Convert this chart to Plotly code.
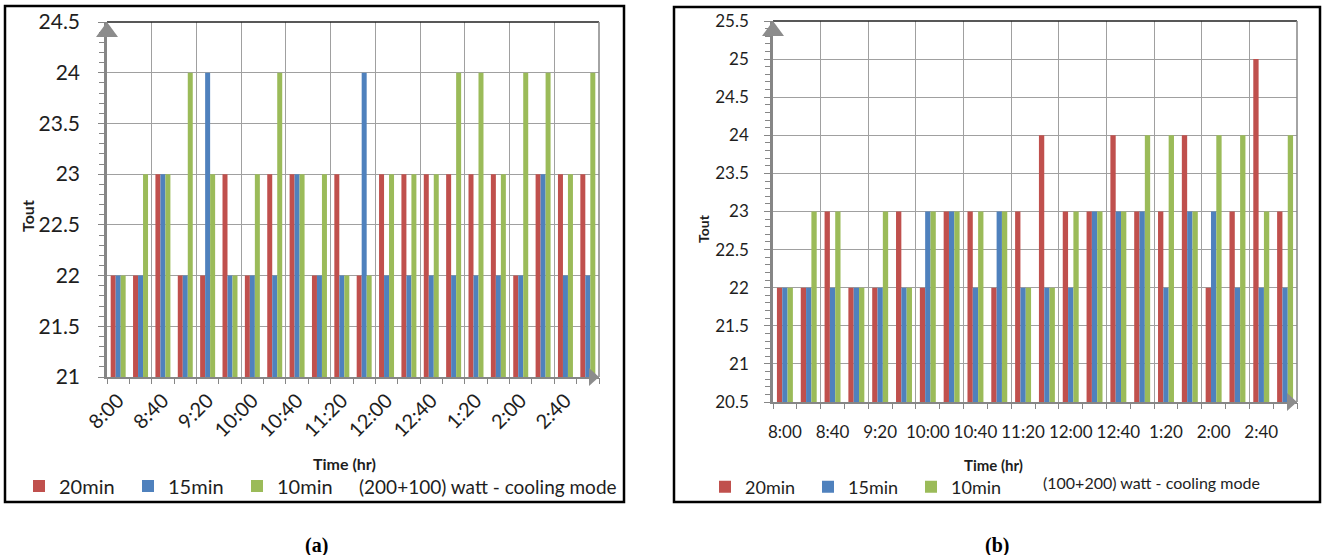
import plotly.graph_objects as go

# ---------------- data ----------------
categories = ["8:00", "8:20", "8:40", "9:00", "9:20", "9:40", "10:00", "10:20",
              "10:40", "11:00", "11:20", "11:40", "12:00", "12:20", "12:40",
              "1:00", "1:20", "1:40", "2:00", "2:20", "2:40", "3:00"]
tick_labels = ["8:00", "8:40", "9:20", "10:00", "10:40", "11:20", "12:00",
               "12:40", "1:20", "2:00", "2:40"]
series_names = ["20min", "15min", "10min"]

# panel (a): (200+100) watt - cooling mode
a_20min = [22, 22, 23, 22, 22, 23, 22, 23, 23, 22, 23, 22, 23, 23, 23, 23, 23, 23, 22, 23, 23, 23]
a_15min = [22, 22, 23, 22, 24, 22, 22, 22, 23, 22, 22, 24, 22, 22, 22, 22, 22, 22, 22, 23, 22, 22]
a_10min = [22, 23, 23, 24, 23, 22, 23, 24, 23, 23, 22, 22, 23, 23, 23, 24, 24, 23, 24, 24, 23, 24]

# panel (b): (100+200) watt - cooling mode
b_20min = [22, 22, 23, 22, 22, 23, 22, 23, 23, 22, 23, 24, 23, 23, 24, 23, 23, 24, 22, 23, 25, 23]
b_15min = [22, 22, 22, 22, 22, 22, 23, 23, 22, 23, 22, 22, 22, 23, 23, 23, 22, 23, 23, 22, 22, 22]
b_10min = [22, 23, 23, 22, 23, 22, 23, 23, 23, 23, 22, 22, 23, 23, 23, 24, 24, 23, 24, 24, 23, 24]

colors = ["#C0504D", "#4F81BD", "#9BBB59"]

W, H = 1325, 555
FONT = "Lato"
AXC = "#868686"
GRID = "#a0a0a0"
TXT = "#1e1e1e"


def px(x):
    return x / W


def py(y):
    return 1 - y / H


fig = go.Figure()

for name, vals, c in zip(series_names, [a_20min, a_15min, a_10min], colors):
    fig.add_trace(go.Bar(x=categories, y=vals, name=name, marker=dict(color=c, line=dict(width=0)),
                         xaxis="x", yaxis="y", legend="legend"))
for name, vals, c in zip(series_names, [b_20min, b_15min, b_10min], colors):
    fig.add_trace(go.Bar(x=categories, y=vals, name=name, marker=dict(color=c, line=dict(width=0)),
                         xaxis="x2", yaxis="y2", legend="legend2"))

# empty traces that activate the overlay grid/tick axes
fig.add_trace(go.Scatter(x=[None], y=[None], xaxis="x3", yaxis="y", showlegend=False, hoverinfo="skip"))
fig.add_trace(go.Scatter(x=[None], y=[None], xaxis="x4", yaxis="y2", showlegend=False, hoverinfo="skip"))

# plot-area geometry (pixels)
A = dict(l=107, r=599, t=22, b=377)
B = dict(l=773, r=1297, t=21, b=402)

ncat = len(categories)


def cat_axis(dom, anchor, fsize, angle, standoff):
    return dict(domain=[px(dom["l"]), px(dom["r"])], anchor=anchor, type="category",
                categoryorder="array", categoryarray=categories, range=[-0.5, ncat - 0.5],
                tickvals=tick_labels, ticktext=tick_labels, tickangle=angle,
                tickfont=dict(family=FONT, size=fsize, color=TXT), ticks="",
                ticklabelstandoff=standoff, automargin=False,
                showgrid=False, showline=True, linecolor=AXC, linewidth=2, zeroline=False)


def grid_axis(dom, anchor, over):
    return dict(domain=[px(dom["l"]), px(dom["r"])], anchor=anchor, overlaying=over,
                range=[-0.5, ncat - 0.5], tick0=-0.5, dtick=2, showgrid=True,
                gridcolor=GRID, gridwidth=1, ticks="outside", ticklen=6, tickcolor=AXC,
                tickwidth=1, showticklabels=False, showline=False, zeroline=False,
                automargin=False,
                minor=dict(dtick=1, tick0=-0.5, ticks="outside", ticklen=6, tickcolor=AXC,
                           showgrid=False))


def val_axis(dom, anchor, rng, fsize, standoff):
    return dict(domain=[py(dom["b"]), py(dom["t"])], anchor=anchor, range=rng,
                tick0=rng[0], dtick=0.5, showgrid=True, gridcolor=GRID, gridwidth=1,
                ticks="outside", ticklen=6, tickcolor=AXC, tickwidth=1,
                minor=dict(dtick=0.1, ticks="outside", ticklen=5, tickcolor=AXC, showgrid=False),
                tickfont=dict(family=FONT, size=fsize, color=TXT), ticklabelstandoff=standoff,
                automargin=False,
                showline=True, linecolor=AXC, linewidth=2.5, zeroline=False)


fig.update_layout(
    width=W, height=H, margin=dict(l=0, r=0, t=0, b=0, pad=0, autoexpand=False),
    paper_bgcolor="white", plot_bgcolor="white",
    barmode="group", bargap=0.33, bargroupgap=0,
    font=dict(family=FONT, color=TXT),
    xaxis=cat_axis(A, "y", 20, -45, 2),
    xaxis2=cat_axis(B, "y2", 17, 0, 14),
    xaxis3=grid_axis(A, "y", "x"),
    xaxis4=grid_axis(B, "y2", "x2"),
    yaxis=val_axis(A, "x", [21, 24.5], 21, 14),
    yaxis2=val_axis(B, "x2", [20.5, 25.5], 17, 12),
    legend=dict(orientation="h", x=px(19), xanchor="left", y=py(486), yanchor="middle",
                font=dict(family=FONT, size=20, color=TXT), entrywidth=64,
                bgcolor="rgba(0,0,0,0)", itemclick=False),
    legend2=dict(orientation="h", x=px(705), xanchor="left", y=py(487), yanchor="middle",
                 font=dict(family=FONT, size=18, color=TXT), entrywidth=58,
                 bgcolor="rgba(0,0,0,0)", itemclick=False),
)

shapes = []
# panel borders
shapes.append(dict(type="rect", xref="paper", yref="paper", x0=px(5), x1=px(624), y0=py(502), y1=py(6),
                   line=dict(color="black", width=2.5)))
shapes.append(dict(type="rect", xref="paper", yref="paper", x0=px(674), x1=px(1320), y0=py(502), y1=py(7),
                   line=dict(color="black", width=2.5)))
for xr, yr in [("x domain", "y domain"), ("x2 domain", "y2 domain")]:
    # top border of the plot area (dark) and right border (gray)
    shapes.append(dict(type="line", xref=xr, yref=yr, x0=0, x1=1, y0=1, y1=1,
                       line=dict(color="#202020", width=1.5)))
    shapes.append(dict(type="line", xref=xr, yref=yr, x0=1, x1=1, y0=0, y1=1,
                       line=dict(color=AXC, width=1.5)))
    # arrow heads on the axes
    shapes.append(dict(type="path", xref=xr, yref=yr, xsizemode="pixel", ysizemode="pixel",
                       xanchor=0, yanchor=1, path="M -11,-15 L 11,-15 L 0,0 Z",
                       fillcolor="#8c8c8c", line=dict(width=0)))
    shapes.append(dict(type="path", xref=xr, yref=yr, xsizemode="pixel", ysizemode="pixel",
                       xanchor=1, yanchor=0, path="M -10,-9 L 0,0 L -10,9 Z",
                       fillcolor="#8c8c8c", line=dict(width=0)))
fig.update_layout(shapes=shapes)


def note(x, y, text, size, family=FONT, color=TXT, angle=0, xanchor="center"):
    return dict(x=px(x), y=py(y), xref="paper", yref="paper", text=text, textangle=angle,
                xanchor=xanchor, yanchor="middle", showarrow=False,
                font=dict(family=family, size=size, color=color))


ann = [
    note(27, 216, "<b>Tout</b>", 16, angle=-90),
    note(703, 229, "<b>Tout</b>", 14, angle=-90),
    note(344, 463, "<b>Time (hr)</b>", 16),
    note(993, 465, "<b>Time (hr)</b>", 15),
    note(357, 486, "(200+100) watt - cooling mode", 19, xanchor="left"),
    note(1041, 482, "(100+200) watt - cooling mode", 16, xanchor="left"),
    note(316, 545, "<b>(a)</b>", 20, family="Liberation Serif", color="black"),
    note(997, 545, "<b>(b)</b>", 20, family="Liberation Serif", color="black"),
]
fig.update_layout(annotations=ann)

fig.write_html("out.html", config={"displayModeBar": False},
               post_script="document.body.style.margin='0px';document.body.style.overflow='hidden';")
